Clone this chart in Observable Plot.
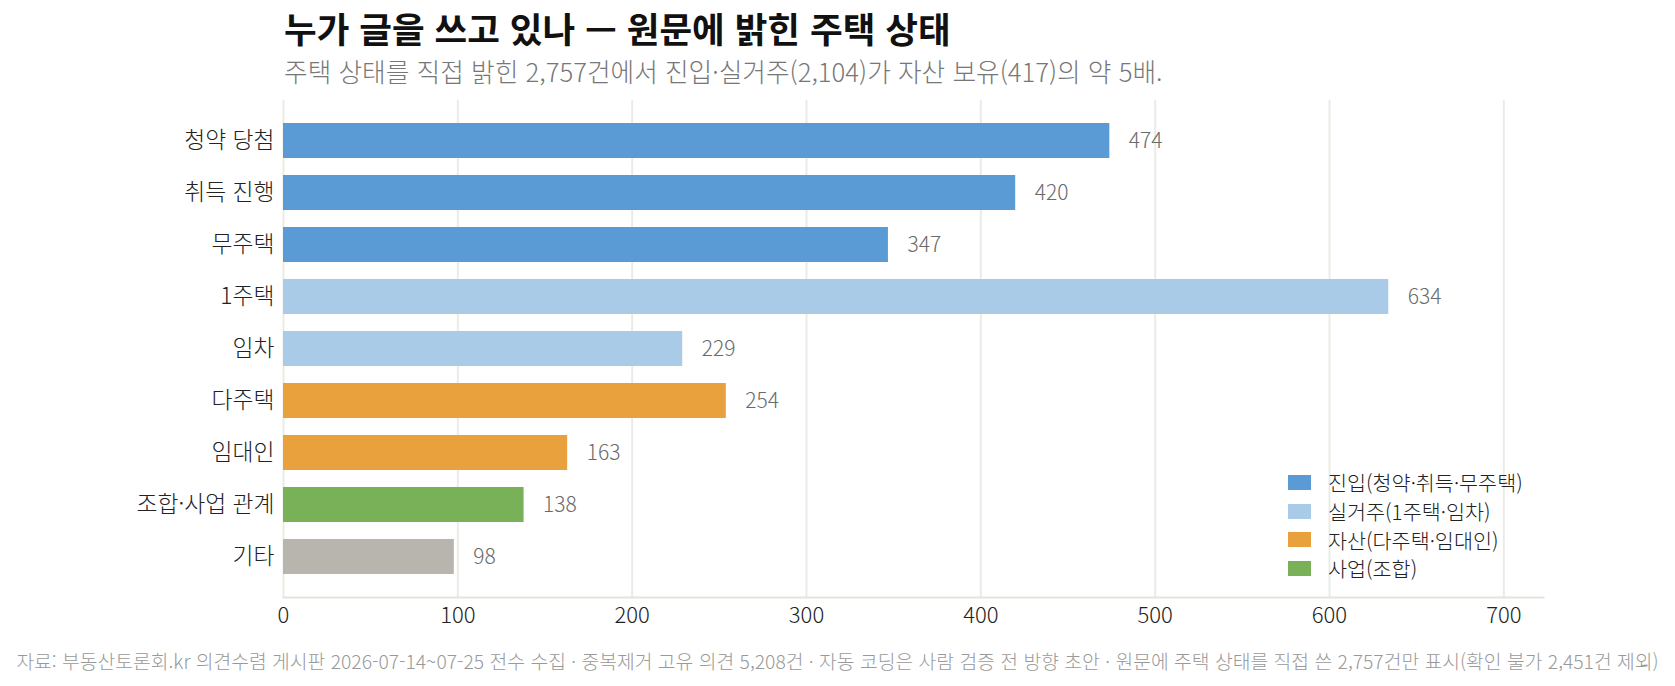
<!DOCTYPE html>
<html lang="ko">
<head>
<meta charset="utf-8">
<script src="https://cdn.jsdelivr.net/npm/d3@7"></script>
<script src="https://cdn.jsdelivr.net/npm/@observablehq/plot@0.6"></script>
<style>
  html, body { margin: 0; padding: 0; background: #fff; }
  body { font-family: "Noto Sans CJK KR", "Noto Sans", sans-serif; }
  #wrap { position: relative; width: 1675px; height: 686px; overflow: hidden; }
  #title { position: absolute; left: 284px; top: 10px; font-size: 35.5px; line-height: 1; font-weight: 700; color: #111; white-space: nowrap; }
  #subtitle { position: absolute; left: 284px; top: 58px; font-size: 25.7px; line-height: 1; font-weight: 300; color: #777; white-space: nowrap; }
  #chart { position: absolute; left: 0; top: 0; }
  #legend { position: absolute; left: 1288px; top: 468px; }
  .lg-row { display: flex; align-items: center; height: 28.7px; font-size: 20.7px; font-weight: 300; color: #222; white-space: nowrap; }
  .lg-sw { width: 23px; height: 15px; margin-right: 17px; flex-shrink: 0; }
  #footer { position: absolute; left: 0; top: 652px; width: 1675px; text-align: center; font-size: 19.3px; line-height: 1; font-weight: 300; color: #999; white-space: nowrap; }
</style>
</head>
<body>
<div id="wrap">
  <div id="title"></div>
  <div id="subtitle"></div>
  <div id="chart"></div>
  <div id="legend"></div>
  <div id="footer"></div>
</div>
<script>
// ---- data ----
const titleText = "누가 글을 쓰고 있나 — 원문에 밝힌 주택 상태";
const subtitleText = "주택 상태를 직접 밝힌 2,757건에서 진입·실거주(2,104)가 자산 보유(417)의 약 5배.";
const footerText = "자료: 부동산토론회.kr 의견수렴 게시판 2026-07-14~07-25 전수 수집 · 중복제거 고유 의견 5,208건 · 자동 코딩은 사람 검증 전 방향 초안 · 원문에 주택 상태를 직접 쓴 2,757건만 표시(확인 불가 2,451건 제외)";

const categories = ["청약 당첨", "취득 진행", "무주택", "1주택", "임차", "다주택", "임대인", "조합·사업 관계", "기타"];
const values = [474, 420, 347, 634, 229, 254, 163, 138, 98];
const groups = ["진입", "진입", "진입", "실거주", "실거주", "자산", "자산", "사업", "기타"];

const groupKeys = ["진입", "실거주", "자산", "사업", "기타"];
const groupColors = ["#5b9bd5", "#a9cbe7", "#e9a13d", "#78b157", "#b8b5ae"];
const legendKeys = ["진입", "실거주", "자산", "사업"];
const legendLabels = ["진입(청약·취득·무주택)", "실거주(1주택·임차)", "자산(다주택·임대인)", "사업(조합)"];

const xTicks = [0, 100, 200, 300, 400, 500, 600, 700];

// ---- build ----
const data = categories.map((c, i) => ({label: c, value: values[i], group: groups[i]}));

document.getElementById("title").textContent = titleText;
document.getElementById("subtitle").textContent = subtitleText;
document.getElementById("footer").textContent = footerText;

const chart = Plot.plot({
  width: 1675,
  height: 640,
  marginLeft: 283,
  marginRight: 132,
  marginTop: 100,
  marginBottom: 43,
  style: {fontFamily: '"Noto Sans CJK KR", "Noto Sans", sans-serif', fontWeight: 300, color: "#222", background: "transparent", overflow: "visible"},
  x: {domain: [0, d3.max(values) * 1.14]},
  y: {domain: categories, paddingInner: 0.33, paddingOuter: 0.435},
  color: {domain: groupKeys, range: groupColors},
  marks: [
    Plot.gridX(xTicks, {stroke: "#ebebe6", strokeOpacity: 1, strokeWidth: 2}),
    Plot.frame({anchor: "bottom", stroke: "#e3e3dd", strokeOpacity: 1, strokeWidth: 2}),
    Plot.barX(data, {x: "value", y: "label", fill: "group"}),
    Plot.text(data, {x: "value", y: "label", text: d => String(d.value), dx: 19, textAnchor: "start", fill: "#6a6a6a", fontSize: 21}),
    Plot.axisX({ticks: xTicks, tickSize: 0, tickPadding: 10, fontSize: 22, label: null, tickFormat: d => String(d)}),
    Plot.axisY({tickSize: 0, tickPadding: 9, fontSize: 22.8, label: null})
  ]
});
document.getElementById("chart").appendChild(chart);

const legend = document.getElementById("legend");
legendKeys.forEach((k, i) => {
  const row = document.createElement("div");
  row.className = "lg-row";
  const sw = document.createElement("div");
  sw.className = "lg-sw";
  sw.style.background = groupColors[groupKeys.indexOf(k)];
  const tx = document.createElement("span");
  tx.textContent = legendLabels[i];
  row.appendChild(sw);
  row.appendChild(tx);
  legend.appendChild(row);
});
</script>
</body>
</html>
